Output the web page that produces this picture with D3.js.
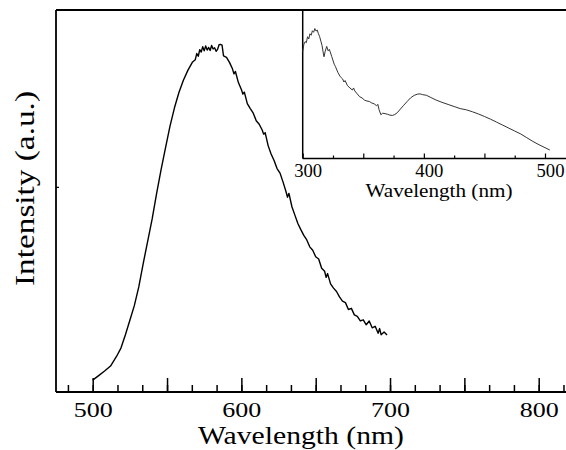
<!DOCTYPE html>
<html>
<head>
<meta charset="utf-8">
<script src="https://cdn.jsdelivr.net/npm/d3@7"></script>
<style>
    body { margin: 0; background: #fff; }
    svg { display: block; }
</style>
</head>
<body>
<div id="chart"></div>
<script>
// main spectrum (emission)
const mainWavelength = [
    500, 504, 508, 512, 516, 519, 522, 525, 528, 531, 534, 537, 540, 543, 546, 549, 552, 555, 558, 561,
    564, 567, 569, 570, 571, 572, 573, 574, 575, 576, 577, 578, 579, 580, 581, 582, 583, 584, 585, 586,
    587, 588, 590, 592, 594, 595, 596, 598, 600, 601, 602, 604, 606, 608, 610, 612, 614, 615, 616, 618,
    620, 622, 624, 626, 628, 630, 631, 632, 634, 636, 638, 640, 642, 644, 646, 648, 650, 652, 654, 656,
    657, 658, 660, 662, 664, 666, 668, 670, 672, 674, 676, 678, 680, 682, 684, 686, 688, 690, 692, 693,
    694, 696, 698
];
const mainIntensity = [
    3.1, 4.3, 5.5, 6.8, 9.3, 11.5, 15.0, 18.8, 22.6, 27.5, 33.7, 39.5, 45.3, 52.0, 58.2, 64.0, 69.6, 74.4, 78.4, 81.6,
    84.2, 86.3, 87.0, 88.6, 87.9, 89.6, 89.0, 90.4, 89.3, 90.6, 89.5, 90.2, 89.4, 90.7, 89.8, 90.1, 89.2, 89.7, 90.9, 91.0,
    90.8, 88.0, 87.6, 86.3, 84.6, 83.3, 83.9, 81.0, 79.2, 78.0, 78.5, 75.5, 74.2, 73.0, 71.0, 70.1, 68.6, 67.5, 67.9, 64.5,
    62.3, 60.6, 58.5, 57.3, 55.0, 52.5, 51.0, 52.0, 48.5, 46.3, 44.1, 42.5, 41.0, 39.8, 38.0, 37.1, 35.4, 34.8, 32.4, 31.6,
    30.0, 31.0, 28.3, 27.2, 26.3, 24.9, 23.8, 23.4, 21.6, 21.9, 20.2, 19.8, 18.6, 18.9, 17.6, 18.6, 16.8, 17.2, 15.4, 16.6,
    15.0, 15.7, 14.9
];

// inset spectrum (excitation)
const insetWavelength = [
    300, 301, 302, 303, 304, 305, 306, 307, 308, 309, 310, 311, 312, 313, 314, 315, 316, 317, 317.6, 318.5,
    319.8, 321, 322, 324, 326, 327, 329, 331, 333, 334, 335, 337, 339, 341, 342, 343, 345, 347, 349, 351,
    353, 355, 357, 359, 361, 362, 363, 364.5, 366, 368, 370, 372, 374, 376, 378, 380, 383, 386, 389, 392,
    395, 397, 399, 402, 406, 410, 415, 420, 425, 430, 435, 440, 445, 450, 455, 460, 465, 470, 475, 480,
    485, 490, 495, 500, 504
];
const insetIntensity = [
    72, 77, 78.7, 78, 82, 80.5, 84, 83, 86, 85, 87.5, 85.8, 86.5, 84, 82, 79, 76, 71, 68.5, 72,
    75.5, 72.5, 73.5, 68.6, 63.5, 62, 58, 55.1, 53.5, 51.5, 52.5, 49, 47.5, 46.1, 47.5, 45.5, 43.5, 41.6, 40.8, 39.3,
    38.7, 38.4, 37.4, 36.8, 35.5, 36.5, 33, 29.5, 30.5, 30.2, 29.8, 29.2, 29.0, 29.6, 30.8, 32.7, 35.5, 38.2, 40.8, 42.5,
    43.4, 43.5, 43, 42.6, 41, 39.4, 37.8, 36.4, 35, 33.6, 32.8, 31.5, 30, 28.3, 26.5, 24.5, 22.5, 20.5, 18.5, 16.5,
    14, 11.5, 9.3, 7.3, 5.7
];

const mainTickLabels = [500, 600, 700, 800];
const insetTickLabels = [300, 400, 500];
const yTickValues = [53.7];

const width = 566;
const height = 450;
const serif = "Liberation Serif";

const svg = d3.select("#chart").append("svg")
    .attr("width", width)
    .attr("height", height);

// main plot
const x = d3.scaleLinear().domain([500, 800]).range([92.7, 538.7]);
const y = d3.scaleLinear().domain([0, 100]).range([392, 10]);
const plotLeft = 56, plotRight = width, plotTop = y(100), plotBottom = y(0);

const minorStep = 50 / 3;
const minorTicks = d3.range(-2, 20).map(i => 500 + i * minorStep).filter(v => x(v) > plotLeft && x(v) < plotRight);
const majorTicks = d3.range(500, 820, 50);

svg.append("g")
    .attr("transform", `translate(0,${plotBottom})`)
    .call(d3.axisBottom(x).tickValues(minorTicks).tickSize(-7).tickFormat(""))
    .call(g => g.select(".domain").remove())
    .call(g => g.selectAll("line").attr("stroke", "#000").attr("stroke-width", 1.5));

svg.append("g")
    .attr("transform", `translate(0,${plotBottom})`)
    .attr("font-family", serif)
    .call(d3.axisBottom(x).tickValues(majorTicks).tickSize(-14)
        .tickFormat(d => mainTickLabels.includes(d) ? d : ""))
    .attr("font-family", serif)
    .call(g => g.select(".domain").remove())
    .call(g => g.selectAll("line").attr("stroke", "#000").attr("stroke-width", 1.5))
    .call(g => g.selectAll("text")
        .attr("y", 25)
        .attr("dy", null)
        .attr("fill", "#000")
        .attr("font-size", 22)
        .filter(d => mainTickLabels.includes(d))
        .attr("textLength", 39)
        .attr("lengthAdjust", "spacingAndGlyphs"));

svg.append("g")
    .attr("transform", `translate(${plotLeft},0)`)
    .call(d3.axisRight(y).tickValues(yTickValues).tickSize(3).tickFormat(""))
    .call(g => g.select(".domain").remove())
    .call(g => g.selectAll("line").attr("stroke", "#000").attr("stroke-width", 1.2));

const frame = svg.append("g").attr("stroke", "#000").attr("stroke-width", 1.8);
frame.append("line").attr("x1", plotLeft).attr("x2", plotLeft).attr("y1", plotTop).attr("y2", plotBottom);
frame.append("line").attr("x1", plotLeft).attr("x2", plotRight).attr("y1", plotBottom).attr("y2", plotBottom);
frame.append("line").attr("x1", plotLeft).attr("x2", plotRight).attr("y1", plotTop).attr("y2", plotTop);

const mainLine = d3.line()
    .x(d => x(d[0]))
    .y(d => y(d[1]));

svg.append("path")
    .datum(d3.zip(mainWavelength, mainIntensity))
    .attr("fill", "none")
    .attr("stroke", "#000")
    .attr("stroke-width", 1.4)
    .attr("stroke-linejoin", "round")
    .attr("d", mainLine);

svg.append("text")
    .attr("x", 301)
    .attr("y", 444)
    .attr("text-anchor", "middle")
    .attr("font-family", serif)
    .attr("font-size", 26)
    .attr("textLength", 206)
    .attr("lengthAdjust", "spacingAndGlyphs")
    .text("Wavelength (nm)");

svg.append("text")
    .attr("transform", "translate(34,188.5) rotate(-90)")
    .attr("text-anchor", "middle")
    .attr("font-family", serif)
    .attr("font-size", 27)
    .attr("textLength", 195)
    .attr("lengthAdjust", "spacingAndGlyphs")
    .text("Intensity (a.u.)");

// inset
const xi = d3.scaleLinear().domain([300, 500]).range([302.7, 545]);
const yi = d3.scaleLinear().domain([0, 100]).range([158.5, 10]);
const insetLeft = xi(300), insetBottom = yi(0);

svg.append("g")
    .attr("transform", `translate(0,${insetBottom})`)
    .call(d3.axisBottom(xi).tickValues(d3.range(325, 520, 50)).tickSize(-3).tickFormat(""))
    .call(g => g.select(".domain").remove())
    .call(g => g.selectAll("line").attr("stroke", "#000").attr("stroke-width", 1.2));

svg.append("g")
    .attr("transform", `translate(0,${insetBottom})`)
    .call(d3.axisBottom(xi).tickValues(d3.range(300, 520, 50)).tickSize(-5)
        .tickFormat(d => insetTickLabels.includes(d) ? d : ""))
    .attr("font-family", serif)
    .call(g => g.select(".domain").remove())
    .call(g => g.selectAll("line").attr("stroke", "#000").attr("stroke-width", 1.2))
    .call(g => g.selectAll("text")
        .attr("y", 18)
        .attr("dy", null)
        .attr("dx", 5)
        .attr("fill", "#000")
        .attr("font-size", 18)
        .filter(d => insetTickLabels.includes(d))
        .attr("textLength", 28)
        .attr("lengthAdjust", "spacingAndGlyphs"));

const insetFrame = svg.append("g").attr("stroke", "#000").attr("stroke-width", 1.5);
insetFrame.append("line").attr("x1", insetLeft).attr("x2", insetLeft).attr("y1", yi(100)).attr("y2", insetBottom);
insetFrame.append("line").attr("x1", insetLeft).attr("x2", plotRight).attr("y1", insetBottom).attr("y2", insetBottom);

const insetLine = d3.line()
    .x(d => xi(d[0]))
    .y(d => yi(d[1]));

svg.append("path")
    .datum(d3.zip(insetWavelength, insetIntensity))
    .attr("fill", "none")
    .attr("stroke", "#333")
    .attr("stroke-width", 1)
    .attr("stroke-linejoin", "round")
    .attr("d", insetLine);

svg.append("text")
    .attr("x", 439)
    .attr("y", 197)
    .attr("text-anchor", "middle")
    .attr("font-family", serif)
    .attr("font-size", 18)
    .attr("textLength", 147)
    .attr("lengthAdjust", "spacingAndGlyphs")
    .text("Wavelength (nm)");
</script>
</body>
</html>
